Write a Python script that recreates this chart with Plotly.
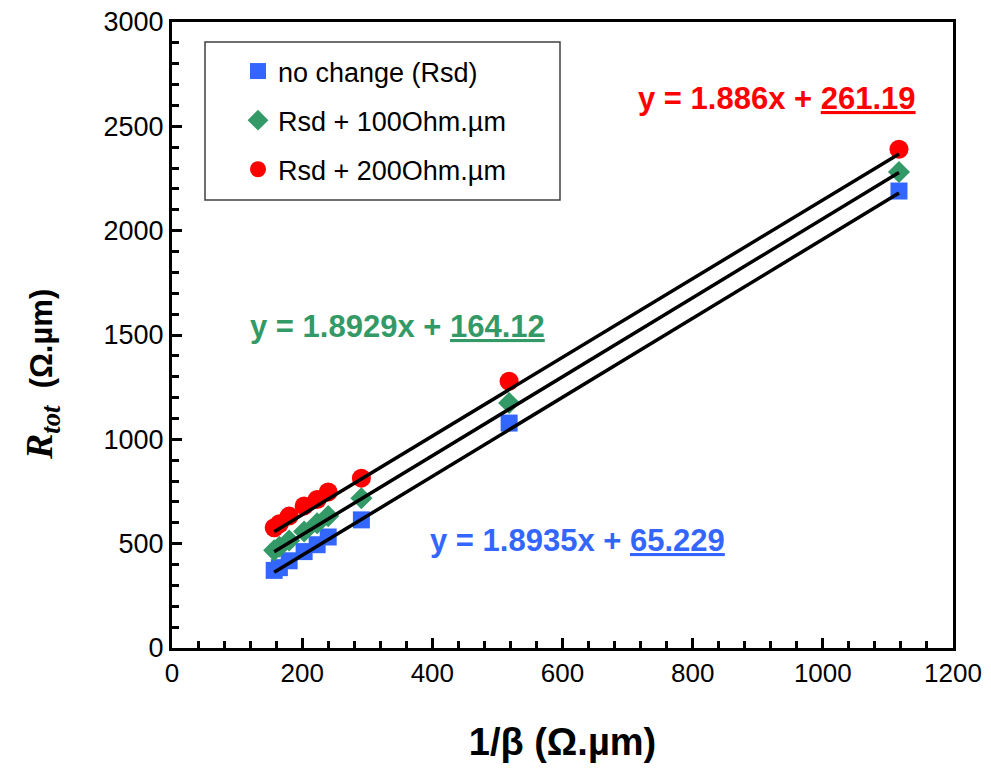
import plotly.graph_objects as go

# Data
inv_beta = [157, 165, 180, 203, 223, 240, 291, 518, 1117]
r_no_change = [372, 385, 418, 462, 495, 532, 614, 1078, 2190]
r_plus100 = [468, 485, 515, 558, 598, 632, 718, 1174, 2281]
r_plus200 = [576, 595, 632, 681, 712, 748, 814, 1278, 2390]

series_names = ["no change (Rsd)", "Rsd + 100Ohm.µm", "Rsd + 200Ohm.µm"]
series_values = [r_no_change, r_plus100, r_plus200]
slopes = [1.8935, 1.8929, 1.886]
intercepts = [65.229, 164.12, 261.19]
slope_labels = ["1.8935", "1.8929", "1.886"]
intercept_labels = ["65.229", "164.12", "261.19"]
colors = ["#3366FF", "#339966", "#FF0000"]
symbols = ["square", "diamond", "circle"]
sizes = [17, 17, 19]

x_ticks = [0, 200, 400, 600, 800, 1000, 1200]
y_ticks = [0, 500, 1000, 1500, 2000, 2500, 3000]

FONT = "Liberation Sans, Arial, sans-serif"

# the page body adds an 8px margin on every side; work in window pixels
OFF = 8
FIG_W, FIG_H = 991 - 2 * OFF, 773 - 2 * OFF
plot_l, plot_r, plot_t, plot_b = 172 - OFF, 953 - OFF, 22 - OFF, 648 - OFF
W = plot_r - plot_l
H = plot_b - plot_t


def px_x(px):
    return (px - OFF - plot_l) / W


def px_y(py):
    return (plot_b - (py - OFF)) / H


fig = go.Figure()

for i in range(3):
    fig.add_trace(go.Scatter(
        x=inv_beta, y=series_values[i], mode="markers", name=series_names[i],
        marker=dict(symbol=symbols[i], size=sizes[i], color=colors[i], line=dict(width=0)),
        legendgroup="g%d" % i,
    ))

xmin, xmax = min(inv_beta), max(inv_beta)
for i in range(3):
    fig.add_trace(go.Scatter(
        x=[xmin, xmax],
        y=[slopes[i] * xmin + intercepts[i], slopes[i] * xmax + intercepts[i]],
        mode="lines", line=dict(color="black", width=3.5),
        showlegend=False, hoverinfo="skip",
    ))

# equation labels
label_pos = [(577, 540), (397, 327), (777, 98)]  # window pixel centres
for i in range(3):
    px, py = label_pos[i]
    fig.add_annotation(
        x=px_x(px), y=px_y(py),
        xref="paper", yref="paper", showarrow=False,
        text="<b>y = %sx + <u>%s</u></b>" % (slope_labels[i], intercept_labels[i]),
        font=dict(family=FONT, size=31, color=colors[i]),
        xanchor="center", yanchor="middle",
    )

# y-axis title
fig.add_annotation(
    x=px_x(42), y=px_y(375), xref="paper", yref="paper", showarrow=False,
    textangle=-90, xanchor="center", yanchor="middle",
    text="<span style=\"font-family:'Liberation Serif', 'Times New Roman', serif;font-size:38px\"><b><i>R<sub>tot</sub></i></b></span><b>  (Ω.µm)</b>",
    font=dict(family=FONT, size=31, color="black"),
)

# legend box
fig.add_shape(
    type="rect", xref="paper", yref="paper",
    x0=px_x(205), x1=px_x(560), y0=px_y(200), y1=px_y(42),
    line=dict(color="#404040", width=1.5), fillcolor="white", layer="below",
)

fig.update_layout(
    width=FIG_W, height=FIG_H,
    margin=dict(l=plot_l, r=FIG_W - plot_r, t=plot_t, b=FIG_H - plot_b, autoexpand=False),
    paper_bgcolor="white", plot_bgcolor="white",
    font=dict(family=FONT, size=26, color="black"),
    showlegend=True,
    legend=dict(
        x=px_x(238), y=px_y(47),
        xanchor="left", yanchor="top",
        bgcolor="rgba(0,0,0,0)", borderwidth=0,
        font=dict(family=FONT, size=27, color="black"),
        traceorder="grouped", tracegroupgap=11,
        itemwidth=30,
    ),
    xaxis=dict(
        range=[0, 1200], tickvals=x_ticks, ticktext=[str(v) for v in x_ticks],
        showgrid=False, zeroline=False, automargin=False, ticklabeloverflow="allow",
        showline=True, linecolor="black", linewidth=3, mirror=True,
        ticks="inside", ticklen=10, tickwidth=2.5, tickcolor="black",
        minor=dict(dtick=40, ticks="inside", ticklen=7, tickwidth=2.5, tickcolor="black", showgrid=False),
        tickfont=dict(family=FONT, size=26),
        title=dict(text="<b>1/β (Ω.µm)</b>", font=dict(family=FONT, size=38), standoff=42),
    ),
    yaxis=dict(
        range=[0, 3000], tickvals=y_ticks, ticktext=[str(v) for v in y_ticks],
        showgrid=False, zeroline=False, automargin=False, ticklabeloverflow="allow",
        showline=True, linecolor="black", linewidth=3, mirror=True,
        ticks="inside", ticklen=10, tickwidth=2.5, tickcolor="black",
        minor=dict(dtick=100, ticks="inside", ticklen=7, tickwidth=2.5, tickcolor="black", showgrid=False),
        tickfont=dict(family=FONT, size=27),
    ),
)

fig.write_html("out.html")
